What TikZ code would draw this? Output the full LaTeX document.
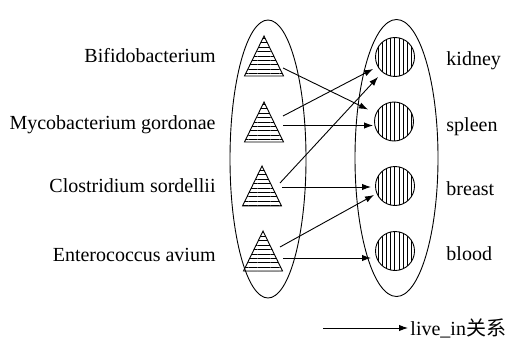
\documentclass[tikz,border=0pt]{standalone}
\usepackage{fontspec}
\setmainfont{Liberation Serif}
\newfontfamily\cjk{Noto Sans CJK SC}
\usetikzlibrary{shapes.geometric,patterns.meta,arrows.meta}
\tikzset{
  bact/.style={draw,isosceles triangle,shape border rotate=90,isosceles triangle stretches,
    minimum width=19.5pt,minimum height=20pt,inner sep=0pt,outer sep=0pt,anchor=apex,
    pattern={Lines[angle=0,distance=2.2pt,line width=0.45pt]}},
  organ/.style={draw,circle,minimum size=19.5pt,inner sep=0pt,
    pattern={Lines[angle=90,distance=2.1pt,line width=0.45pt]}},
  group/.style={draw,ellipse,inner sep=0pt},
  tagtext/.style={inner sep=0pt},
}
\begin{document}
\begin{tikzpicture}[x=0.5pt,y=-0.5pt,>={Latex[length=4.5pt,width=3.2pt]},font=\fontsize{10}{12}\selectfont,line width=0.45pt]
  \useasboundingbox (0,0) rectangle (523,342);
  % the two groups
  \node[group,minimum width=38pt,minimum height=139pt] (left) at (268,159) {};
  \node[group,minimum width=41.5pt,minimum height=138.5pt] (right) at (396.5,158) {};
  % bacteria
  \node[bact] (t1) at (264,36) {};
  \node[bact] (t2) at (264,102) {};
  \node[bact] (t3) at (262,166) {};
  \node[bact] (t4) at (263,231) {};
  \node[tagtext,anchor=base east] (bifido) at (216,62.5) {Bifidobacterium};
  \node[tagtext,anchor=base east] (myco) at (216,129) {Mycobacterium gordonae};
  \node[tagtext,anchor=base east] (clost) at (216,192) {Clostridium sordellii};
  \node[tagtext,anchor=base east] (entero) at (216,261.5) {Enterococcus avium};
  % organs
  \node[organ] (kidney) at (395,57) {};
  \node[organ] (spleen) at (394,121.5) {};
  \node[organ] (breast) at (395,186) {};
  \node[organ] (blood) at (395,251) {};
  \node[tagtext,anchor=base west] (kid) at (446,65.5) {kidney};
  \node[tagtext,anchor=base west] (spl) at (446,131) {spleen};
  \node[tagtext,anchor=base west] (bre) at (446,195) {breast};
  \node[tagtext,anchor=base west] (blo) at (446,260) {blood};
  % live_in links
  \draw[->] ([shift={(19,32)}]t1.apex) -- ([shift={(-26,-12)}]spleen.center);
  \draw[->] ([shift={(19,14)}]t2.apex) -- ([shift={(-22,12)}]kidney.center);
  \draw[->] ([shift={(19,23.5)}]t2.apex) -- ([shift={(-21,4)}]spleen.center);
  \draw[->] ([shift={(18,17)}]t3.apex) -- ([shift={(-17,20)}]kidney.center);
  \draw[->] ([shift={(20,21)}]t3.apex) -- ([shift={(-24,1)}]breast.center);
  \draw[->] ([shift={(17,16)}]t4.apex) -- ([shift={(-21,9)}]breast.center);
  \draw[->] ([shift={(20,27)}]t4.apex) -- ([shift={(-24,7)}]blood.center);
  % legend
  \coordinate (lg) at (323,328);
  \node[anchor=west,inner sep=1pt] (lgtext) at (408,328) {live\_in{\cjk 关系}};
  \draw[->] (lg) -- (lgtext);
\end{tikzpicture}
\end{document}
